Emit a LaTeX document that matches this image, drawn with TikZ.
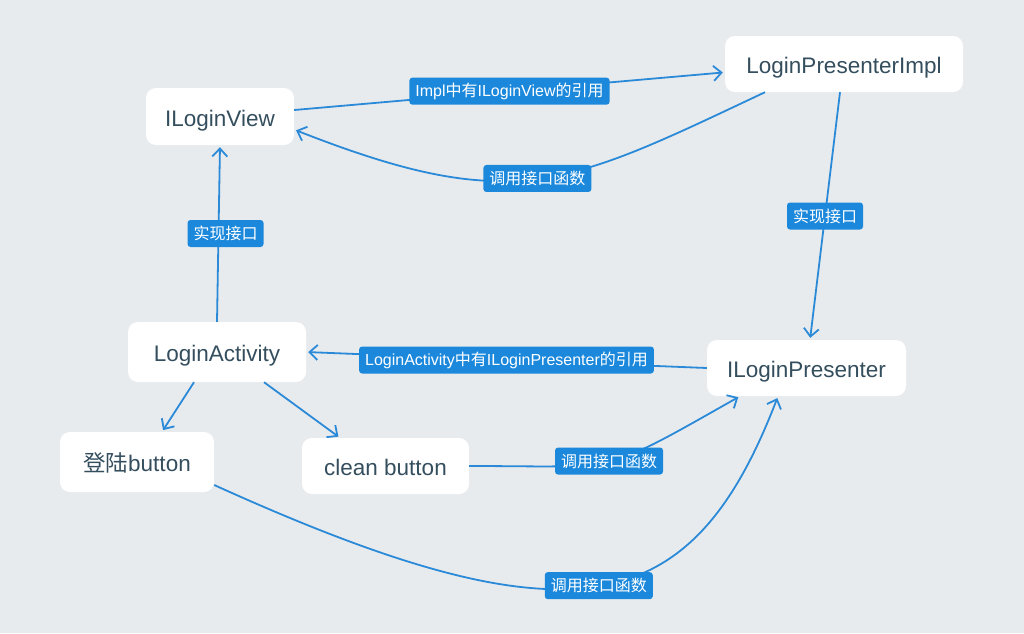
\documentclass[tikz,border=0pt]{standalone}
\usepackage{fontspec}
\setmainfont{Liberation Sans}
\newfontfamily\cjk{Noto Sans CJK SC}
\usetikzlibrary{arrows.meta,calc}
\definecolor{bgc}{RGB}{232,235,238}
\definecolor{txc}{RGB}{52,78,94}
\definecolor{lnc}{RGB}{43,138,216}
\definecolor{lbc}{RGB}{27,136,220}
\tikzset{
  box/.style={fill=white, rounded corners=10pt, text=txc, font=\fontsize{22.5}{26}\selectfont, inner sep=0pt, text height=23pt, text depth=4pt},
  lbl/.style={fill=lbc, rounded corners=3pt, text=white, font=\fontsize{16}{19}\selectfont, inner xsep=6pt, inner ysep=0pt, minimum height=27pt},
  conn/.style={draw=lnc, line width=1.8pt, -{Straight Barb[length=8pt,width=15pt,line width=1.8pt]}, shorten >=2pt}
}
\begin{document}
\begin{tikzpicture}[x=1pt,y=-1pt]
\fill[bgc] (0,0) rectangle (1024,633);
\useasboundingbox (0,0) rectangle (1024,633);

\node[box, minimum width=148pt, minimum height=57pt] (ilv) at (220,116.5) {ILoginView};
\node[box, minimum width=238pt, minimum height=56pt] (imp) at (844,64) {LoginPresenterImpl};
\node[box, minimum width=178pt, minimum height=60pt] (la) at (217,352) {LoginActivity};
\node[box, minimum width=199pt, minimum height=56pt] (ilp) at (806.5,368) {ILoginPresenter};
\node[box, minimum width=154pt, minimum height=60pt] (dl) at (137,462) {{\cjk 登陆}button};
\node[box, minimum width=167pt, minimum height=56pt] (cb) at (385.5,466) {clean button};

% ILoginView -> Impl
\draw[conn] (ilv.5) -- node[lbl] (l1) {Impl{\cjk 中有}ILoginView{\cjk 的引用}} (imp.184);
% Impl -> ILoginView (curve)
\draw[conn] ($(imp.south)+(-79,0)$) .. controls (566,186) and (514,216) .. node[lbl, pos=0.5] (l2) {\cjk 调用接口函数} (ilv.-10);
% LoginActivity -> ILoginView
\draw[conn] (la.north) -- node[lbl, xshift=7pt] (l3) {\cjk 实现接口} (ilv.south);
% Impl -> ILoginPresenter
\draw[conn] ($(imp.south)+(-4,0)$) -- node[lbl] (l4) {\cjk 实现接口} ($(ilp.north)+(3.5,0)$);
% ILoginPresenter -> LoginActivity
\draw[conn] (ilp.west) -- node[lbl] (l5) {LoginActivity{\cjk 中有}ILoginPresenter{\cjk 的引用}} (la.east);
% LoginActivity -> buttons
\draw[conn] ($(la.south)+(-23,0)$) -- ($(dl.north)+(25,0)$);
\draw[conn] ($(la.south)+(47,0)$) -- ($(cb.north)+(-45.5,0)$);
% clean button -> ILoginPresenter
\draw[conn] (cb.east) .. controls (622,466) and (599,476) .. node[lbl, pos=0.5] (l6) {\cjk 调用接口函数} ($(ilp.south)+(-66.5,0)$);
% login button -> ILoginPresenter
\draw[conn] ($(dl.east)+(0,23)$) .. controls (574,648) and (692,620) .. node[lbl, pos=0.5] (l7) {\cjk 调用接口函数} ($(ilp.south)+(-28.5,0)$);
\end{tikzpicture}
\end{document}
